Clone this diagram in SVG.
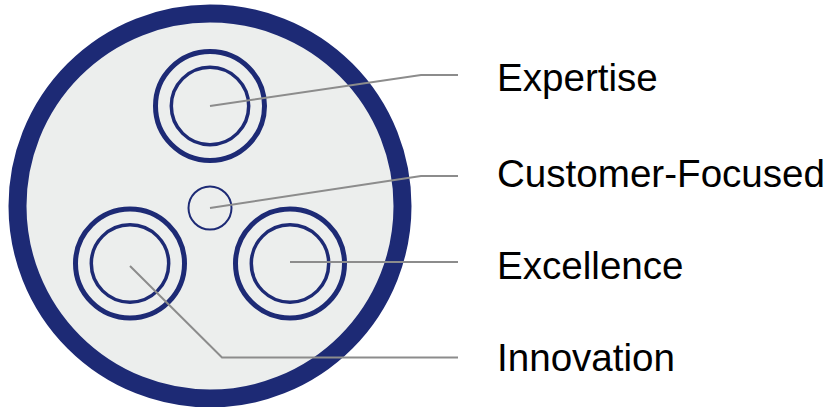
<svg xmlns="http://www.w3.org/2000/svg" width="830" height="407" viewBox="0 0 830 407">
  <style>
    .shell { fill: #eceeed; stroke: #1d2a75; stroke-width: 18; }
    .jacket { fill: none; stroke: #1d2a75; stroke-width: 5; }
    .core { fill: none; stroke: #1d2a75; stroke-width: 3.5; }
    .filler { fill: none; stroke: #1d2a75; stroke-width: 2; }
    .leader { fill: none; stroke: #8c8c8c; stroke-width: 2; stroke-linejoin: miter; }
    .label { font-family: "Liberation Sans", Arial, sans-serif; font-size: 38.6px; fill: #000000; }
  </style>
  <rect width="830" height="407" fill="#ffffff"/>

  <!-- outer sheath -->
  <g id="sheath">
    <circle class="shell" cx="210" cy="206" r="192.5"/>
  </g>

  <!-- conductors -->
  <g id="node-expertise">
    <circle class="jacket" cx="210" cy="106" r="54.5"/>
    <circle class="core" cx="210" cy="106" r="38.7"/>
  </g>
  <g id="node-innovation">
    <circle class="jacket" cx="130" cy="263.5" r="54.5"/>
    <circle class="core" cx="130" cy="263.5" r="38.7"/>
  </g>
  <g id="node-excellence">
    <circle class="jacket" cx="290" cy="263.5" r="54.5"/>
    <circle class="core" cx="290" cy="263.5" r="38.7"/>
  </g>
  <g id="node-customer">
    <circle class="filler" cx="210" cy="208" r="21.5"/>
  </g>

  <!-- leader lines -->
  <g id="connectors">
    <polyline class="leader" points="210,106 421,75 458,75"/>
    <polyline class="leader" points="210,208 421,176 458,176"/>
    <polyline class="leader" points="290,262 458,262"/>
    <polyline class="leader" points="130,266 222,357.5 458,357.5"/>
  </g>

  <!-- labels -->
  <g id="labels">
    <text class="label" x="497" y="91">Expertise</text>
    <text class="label" x="497" y="187">Customer-Focused</text>
    <text class="label" x="497" y="279">Excellence</text>
    <text class="label" x="497" y="371">Innovation</text>
  </g>
</svg>
